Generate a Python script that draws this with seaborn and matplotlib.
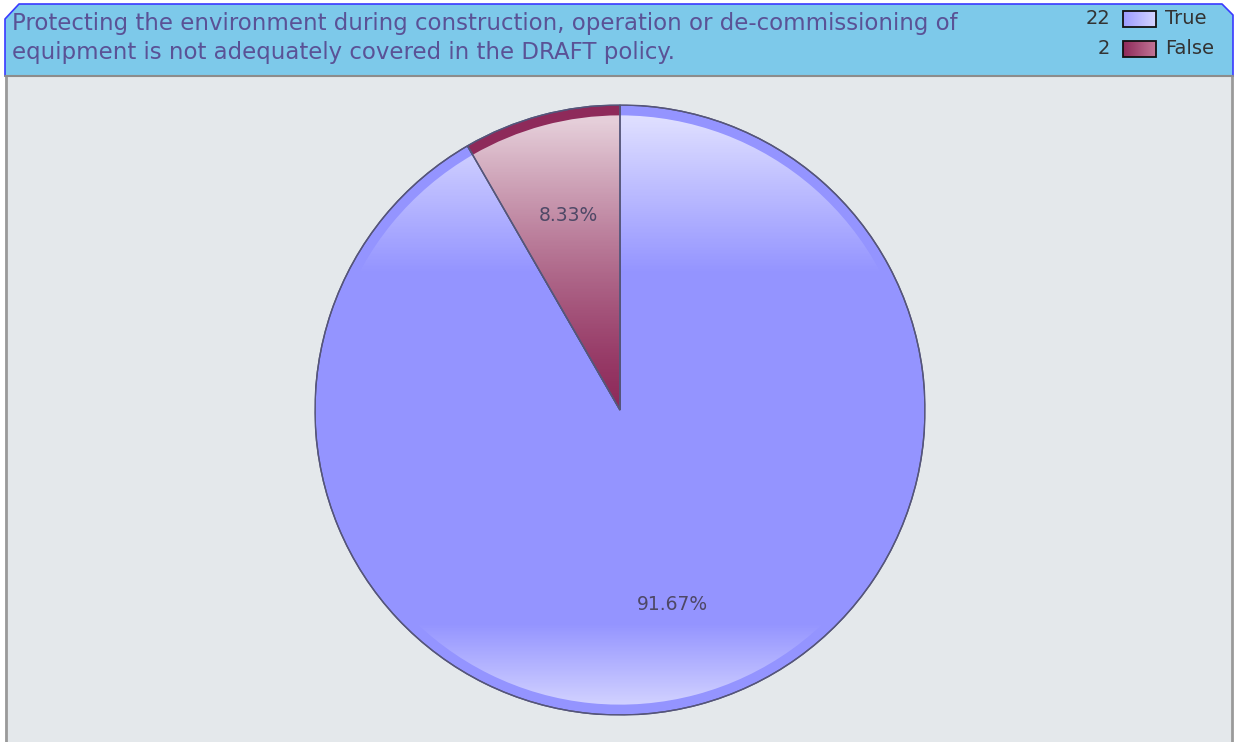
"""
Pie chart: environmental protection coverage in the DRAFT policy.
"""

import numpy as np
import matplotlib
matplotlib.use("Agg")
import matplotlib.pyplot as plt
import seaborn as sns
from matplotlib.patches import Polygon, Rectangle, Wedge

# ============================================================
# Data
# ============================================================
TITLE = ("Protecting the environment during construction, operation or de-commissioning of\n"
         "equipment is not adequately covered in the DRAFT policy.")
labels = ["True", "False"]
counts = [22, 2]
base_colors = ["#9494ff", "#8e2a5a"]

# ============================================================
# Style
# ============================================================
sns.set_theme(style="white")
plt.rcParams['font.family'] = ['DejaVu Sans']

W, H = 1237, 742
fig = plt.figure(figsize=(W / 100, H / 100), dpi=100)
fig.patch.set_facecolor("white")

# Background axes in pixel coordinates
bg = fig.add_axes([0, 0, 1, 1])
bg.set_xlim(0, W)
bg.set_ylim(H, 0)
bg.axis("off")

# Grey plot panel
bg.add_patch(Rectangle((5, 76), 1228, 670, facecolor="#e4e8eb", edgecolor="none", zorder=1))
bg.plot([6, 6], [76, 742], color="#9a9a9a", lw=2, zorder=2)
bg.plot([1232, 1232], [76, 742], color="#9a9a9a", lw=2, zorder=2)

# Header with chamfered corners
hdr = [(5, 76), (5, 19), (19, 4), (1222, 4), (1233, 15), (1233, 76)]
bg.add_patch(Polygon(hdr, closed=True, facecolor="#7dc9ea", edgecolor="none", zorder=3))
xs, ys = zip(*hdr)
bg.plot(xs, ys, color="#3a3aff", lw=1.2, zorder=4)
bg.plot([5, 1233], [76, 76], color="#8c8c8c", lw=1.5, zorder=4)

bg.text(12, 38, TITLE, fontsize=16.5, color="#5a5296", va="center", ha="left",
        linespacing=1.33, zorder=5)

# Legend with counts
leg_fill = {"True": ("#9c9cff", "#d4d4ff"), "False": ("#8e2a5a", "#c27596")}
for i, (lab, cnt) in enumerate(zip(labels, counts)):
    yc = 19 + i * 30
    bg.text(1110, yc, str(cnt), fontsize=14, color="#333333", ha="right", va="center", zorder=5)
    c0, c1 = leg_fill[lab]
    grad = np.linspace(0, 1, 50)[None, :, None]
    rgb0 = np.array(matplotlib.colors.to_rgb(c0))
    rgb1 = np.array(matplotlib.colors.to_rgb(c1))
    img = rgb0 * (1 - grad) + rgb1 * grad
    bg.imshow(img, extent=(1123, 1156, yc + 8, yc - 8), aspect="auto", zorder=5)
    bg.add_patch(Rectangle((1123, yc - 8), 33, 16, facecolor="none",
                           edgecolor="#111111", lw=1.3, zorder=6))
    bg.text(1165, yc, lab, fontsize=14, color="#333333", ha="left", va="center", zorder=5)
bg.set_xlim(0, W)
bg.set_ylim(H, 0)

# ============================================================
# Pie
# ============================================================
cx, cy, r = 620, 410, 305
ax = fig.add_axes([(cx - r) / W, (H - cy - r) / H, 2 * r / W, 2 * r / H])
ax.set_zorder(10)
ax.patch.set_alpha(0)

palette = sns.color_palette(base_colors)
wedges, _, autotexts = ax.pie(
    counts, colors=palette, startangle=90, counterclock=False,
    autopct="%.2f%%", pctdistance=0.66, radius=1.0,
    wedgeprops=dict(edgecolor="#55557a", linewidth=1.0),
    textprops=dict(fontsize=13.5, color="#4e4866"),
)

# Glossy vertical gradients inside each wedge
yy = np.linspace(-1, 1, 400)[:, None]
alpha_true = np.clip((yy - 0.45) / 0.52, 0, 1) * 0.72 + np.clip((-0.70 - yy) / 0.27, 0, 1) * 0.58
alpha_false = np.clip(yy / 0.95, 0, 1) ** 1.3 * 0.78
for w, alpha in zip(wedges, [alpha_true, alpha_false]):
    img = np.ones((400, 2, 4))
    img[..., 3] = np.repeat(alpha, 2, axis=1)
    im = ax.imshow(img, extent=(-1, 1, -1, 1), origin="lower", aspect="auto", zorder=2)
    clip = Wedge((0, 0), 0.966, w.theta1, w.theta2, transform=ax.transData)
    im.set_clip_path(clip)
    w.set_zorder(1)

# redraw outlines on top
for w in wedges:
    ax.add_patch(Wedge((0, 0), 1.0, w.theta1, w.theta2, facecolor="none",
                       edgecolor="#55557a", lw=1.0, zorder=3))
for t in autotexts:
    t.set_zorder(4)

ax.set_xlim(-1.0, 1.0)
ax.set_ylim(-1.0, 1.0)
ax.set_aspect("auto")
ax.axis("off")

fig.savefig("out.png", dpi=100)
